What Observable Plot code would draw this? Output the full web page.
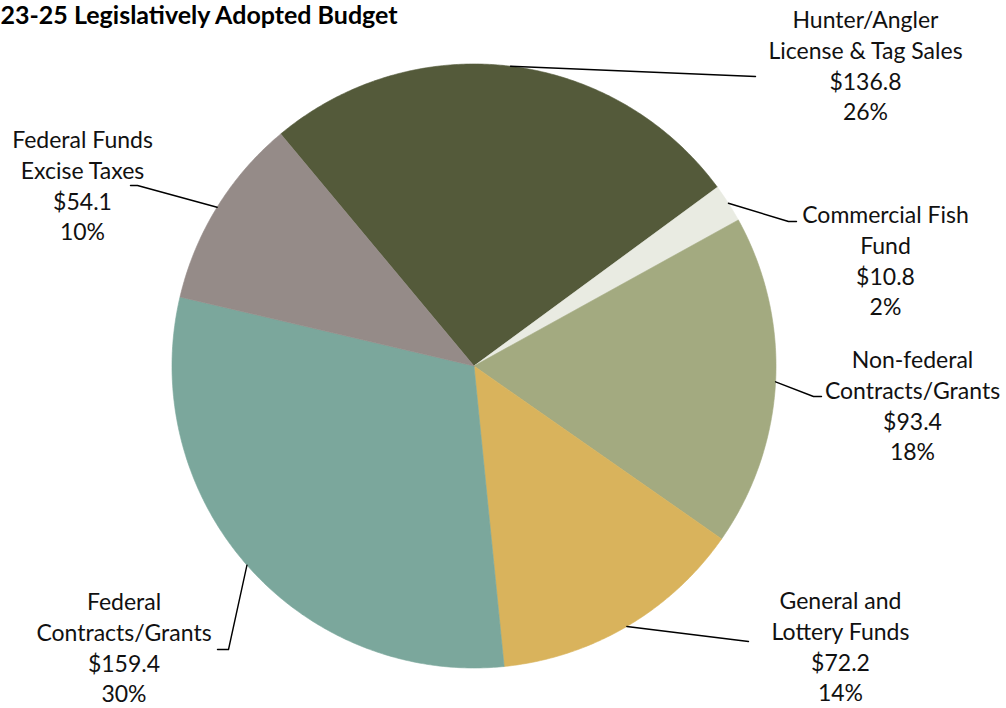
<!DOCTYPE html>
<html>
<head>
<meta charset="utf-8">
<script src="https://cdn.jsdelivr.net/npm/d3@7"></script>
<script src="https://cdn.jsdelivr.net/npm/@observablehq/plot@0.6"></script>
<style>
  html, body { margin: 0; padding: 0; background: #fff; overflow: hidden; }
  #chart svg { display: block; }
</style>
</head>
<body>
<div id="chart"></div>
<script>
// ---- Data ----
const titleText = "23-25 Legislatively Adopted Budget";
const categories = [
  "Hunter/Angler\nLicense & Tag Sales",
  "Commercial Fish\nFund",
  "Non-federal\nContracts/Grants",
  "General and\nLottery Funds",
  "Federal\nContracts/Grants",
  "Federal Funds\nExcise Taxes"
];
const values = [136.8, 10.8, 93.4, 72.2, 159.4, 54.1];
const colors = ["#545a3a", "#e9ebe2", "#a3aa80", "#d9b35c", "#7ba79c", "#958b88"];

// ---- Layout (pixels) ----
const W = 1006, H = 708;
const cx = 473.5, cy = 365.5, R = 302;
const startDeg = -39.8;
const labelPos = [
  {x: 865, y: 64},
  {x: 885, y: 259},
  {x: 912, y: 404},
  {x: 840, y: 645},
  {x: 123.5, y: 646},
  {x: 82, y: 184}
];
const leaderPts = [
  [[755, 76]],
  [[788, 221], [796, 221]],
  [[813, 396], [821, 396]],
  [[748, 641]],
  [[228, 649], [217, 649]],
  [[137, 185], [130, 185]]
];
const fontFamily = "Lato, 'Open Sans', sans-serif";
const fontSize = 23;

// ---- Build ----
const total = d3.sum(values);
const rows = categories.map((c, i) => ({name: c, value: values[i], color: colors[i], i}));
const a0 = startDeg * Math.PI / 180;
const arcs = d3.pie().value(d => d.value).sort(null).startAngle(a0).endAngle(a0 + 2 * Math.PI)(rows);

const pt = (a, r) => ({x: cx + r * Math.sin(a), y: cy - r * Math.cos(a)});

const sliceMarks = arcs.map(a => {
  const n = Math.max(8, Math.ceil((a.endAngle - a.startAngle) / (Math.PI / 360)));
  const pts = [{x: cx, y: cy}];
  for (let k = 0; k <= n; k++) pts.push(pt(a.startAngle + (a.endAngle - a.startAngle) * k / n, R));
  pts.push({x: cx, y: cy});
  return Plot.line(pts, {x: "x", y: "y", fill: a.data.color, stroke: a.data.color, strokeWidth: 0.6, curve: "linear"});
});

const leaderMarks = arcs.map((a, i) => {
  const mid = (a.startAngle + a.endAngle) / 2;
  const pts = [pt(mid, R), ...leaderPts[i].map(([x, y]) => ({x, y}))];
  return Plot.line(pts, {x: "x", y: "y", stroke: "#000", strokeWidth: 1.4, fill: "none"});
});

const labels = arcs.map((a, i) => ({
  x: labelPos[i].x, y: labelPos[i].y,
  text: `${a.data.name}\n$${a.data.value.toFixed(1)}\n${Math.round(a.data.value / total * 100)}%`
}));

const chart = Plot.plot({
  width: W, height: H,
  margin: 0,
  x: {domain: [0, W], range: [0, W], axis: null},
  y: {domain: [0, H], range: [0, H], axis: null},
  style: {fontFamily, background: "#fff"},
  marks: [
    ...sliceMarks,
    ...leaderMarks,
    Plot.text(labels, {x: "x", y: "y", text: "text", fontSize, lineHeight: 30.7 / fontSize, fill: "#111", textAnchor: "middle", lineAnchor: "middle"}),
    Plot.text([titleText], {frameAnchor: "top-left", dx: 0, dy: 15.5, text: d => d, fontSize: 25, fontWeight: "bold", fill: "#000", textAnchor: "start", lineAnchor: "middle"})
  ]
});
document.getElementById("chart").appendChild(chart);
</script>
</body>
</html>
